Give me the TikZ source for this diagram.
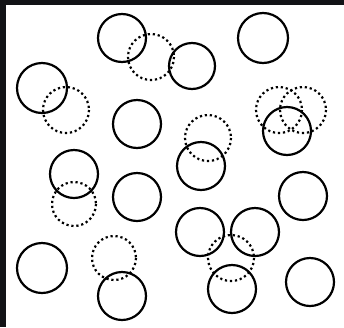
\documentclass[tikz,border=0pt]{standalone}
\definecolor{frame}{HTML}{121316}
\tikzset{
  solidring/.style={draw=black,line width=2.2pt},
  dotring/.style={draw=black,line width=2.2pt,dash pattern=on 2.2pt off 2.8pt}
}
\begin{document}
\begin{tikzpicture}[x=1pt,y=-1pt]
\useasboundingbox (0,0) rectangle (344,327);
\fill[frame] (0,0) rectangle (344,327);
\fill[white] (6,5) rectangle (344,327);
% dotted circles
\foreach \x/\y/\r in {151/57/23, 66/110/23, 279/110/23, 303/110/23, 208/138/23, 74/204/22, 114/258/22, 231/258/23}
  \draw[dotring] (\x,\y) circle[radius=\r];
% solid circles
\foreach \x/\y/\r in {122/38/24, 192/66/23, 263/38/25, 42/88/25, 137/124/24, 287/131/24, 201/166/24, 74/174/24, 137/197/24, 303/196/24, 42/268/25, 122/296/24, 200/232/24, 255/232/24, 232/289/24, 310/282/24}
  \draw[solidring] (\x,\y) circle[radius=\r];
\end{tikzpicture}
\end{document}
